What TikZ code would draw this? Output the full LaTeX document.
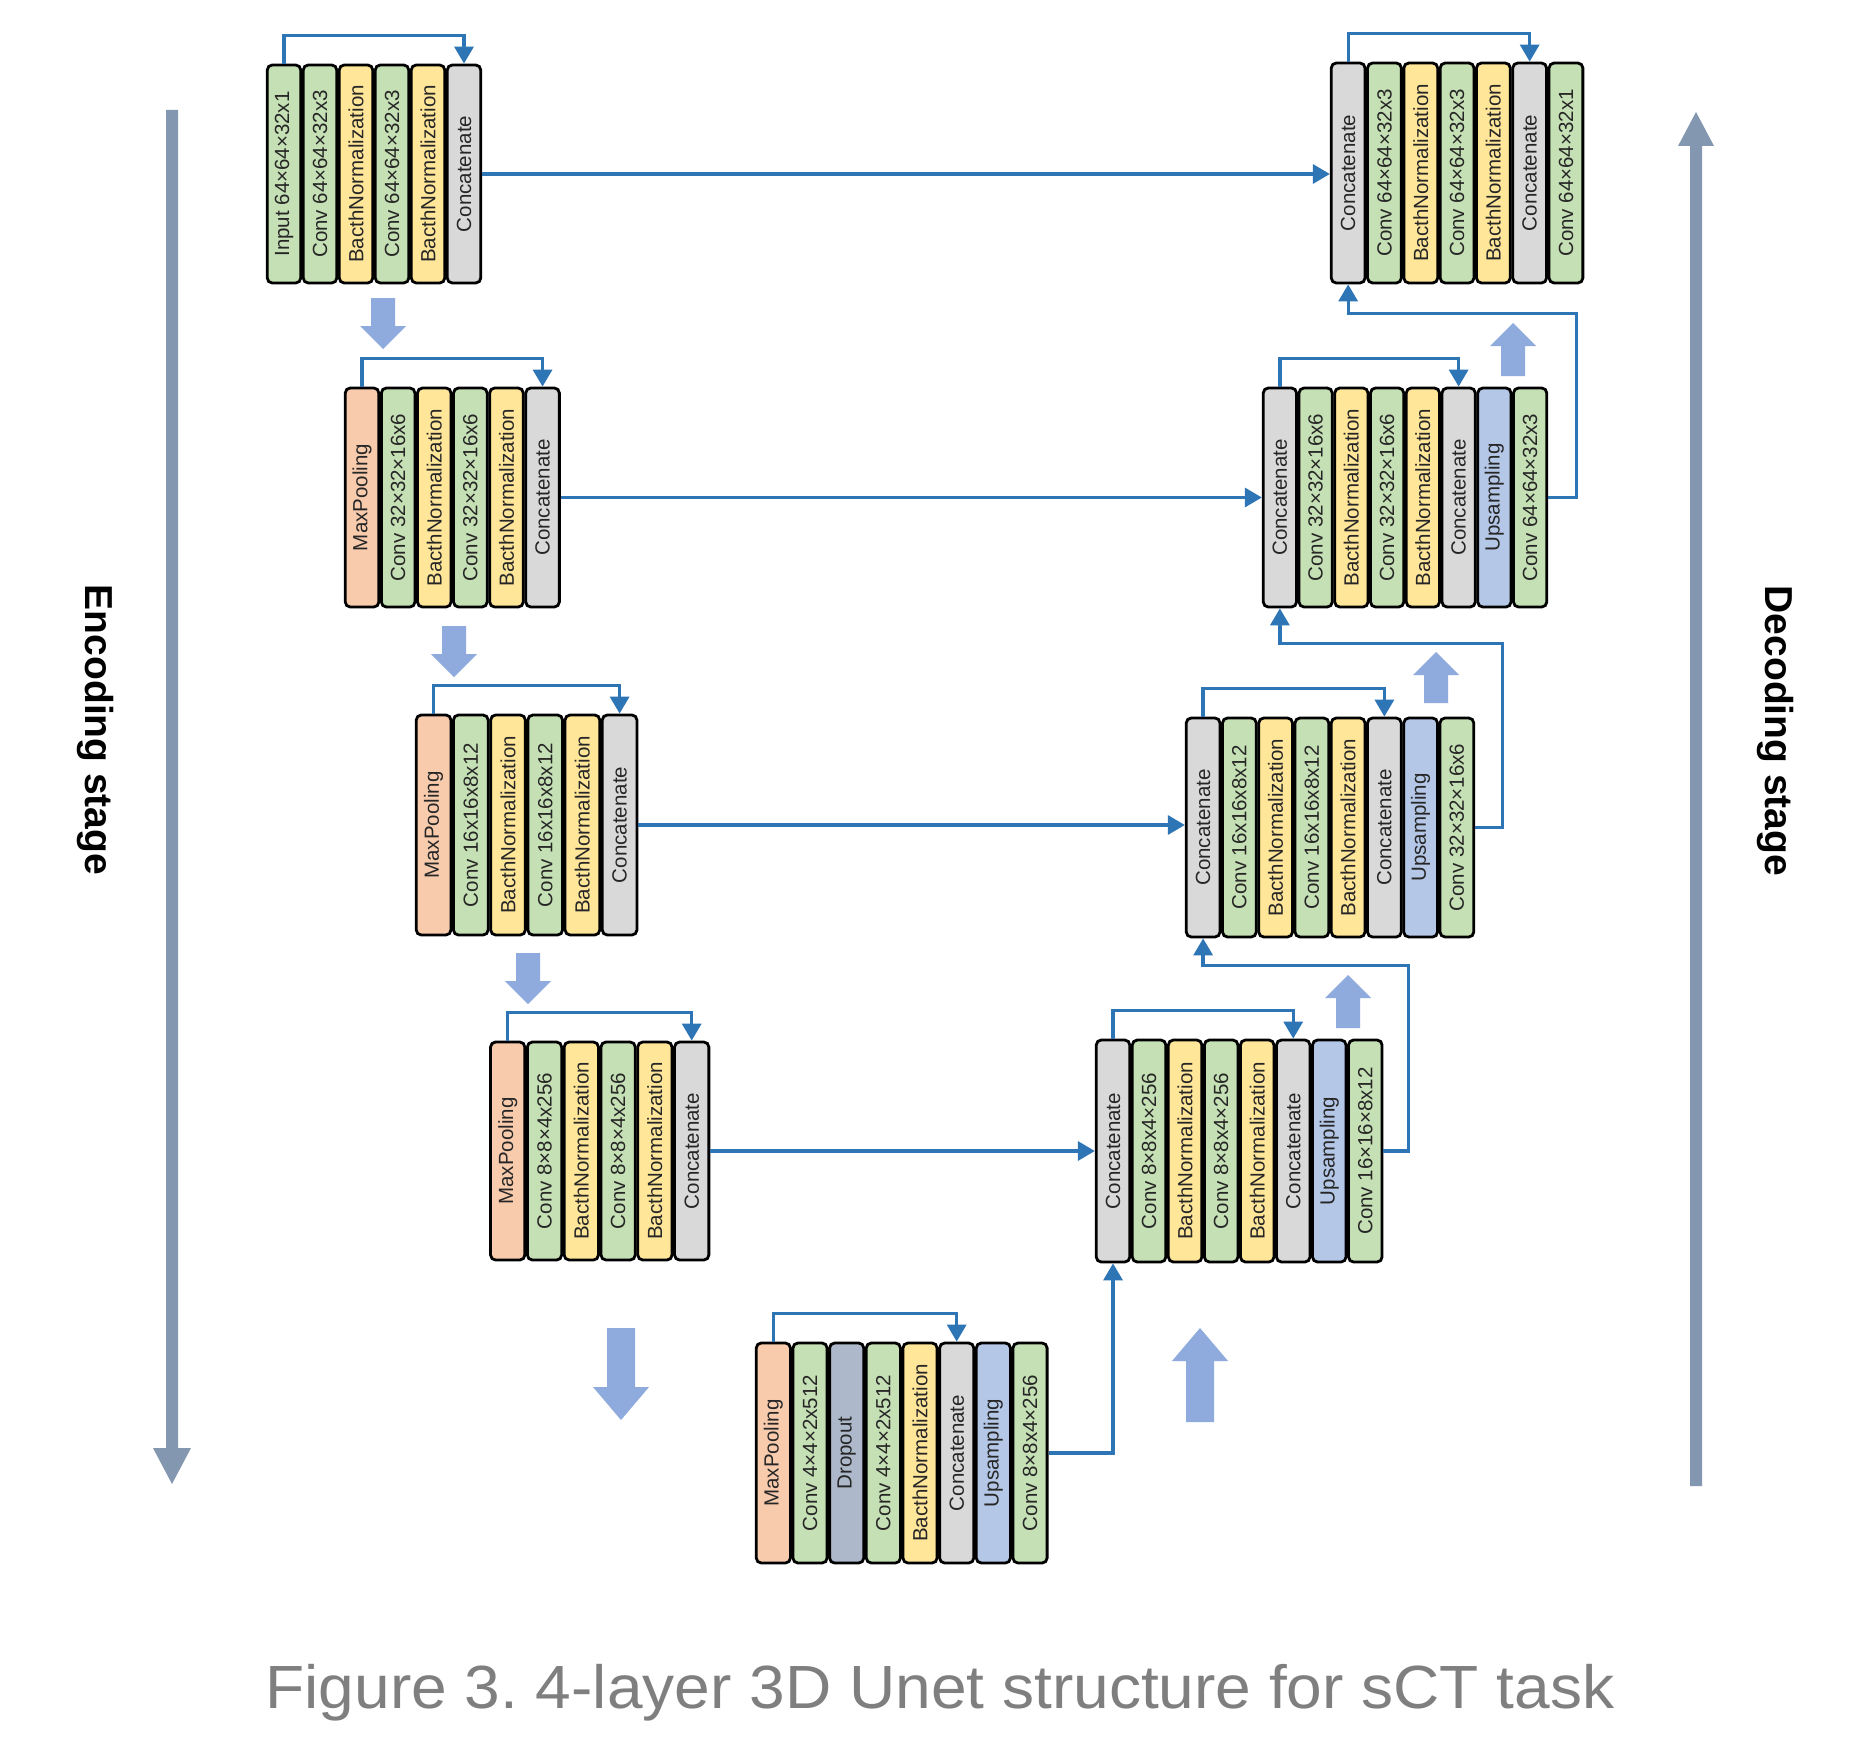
\documentclass[tikz,border=0pt]{standalone}
\usepackage{fontspec}
\setmainfont{Liberation Sans}
\usetikzlibrary{arrows.meta,calc}
\frenchspacing
\definecolor{cgreen}{HTML}{C5E0B4}
\definecolor{cyellow}{HTML}{FFE699}
\definecolor{cgray}{HTML}{D9D9D9}
\definecolor{corange}{HTML}{F8CBAD}
\definecolor{cblue}{HTML}{B4C7E7}
\definecolor{cdrop}{HTML}{ADB9CA}
\definecolor{connblue}{HTML}{2E75B6}
\definecolor{fatblue}{HTML}{8FAADC}
\definecolor{sidearrow}{HTML}{8497B0}
\definecolor{captiongray}{HTML}{7F7F7F}
\definecolor{celltext}{HTML}{262626}
% name, x0, pitch, top, bottom, list
\newcommand\ublock[6]{%
  \foreach \c/\t [count=\i] in {#6} {
    \node[cell, fill=\c, minimum width={#5-#4}, minimum height={#3-2.5}]
      (#1-\i) at ({#2+(\i-0.5)*#3}, {(#4+#5)/2}) {\t};
  }}
% cx, top, tip, headlen, headw, shaftw
\newcommand\fatdown[7]{%
  \fill[#7] ({#1-#6/2},#2) -- ({#1+#6/2},#2) -- ({#1+#6/2},{#3-#4}) -- ({#1+#5/2},{#3-#4})
    -- (#1,#3) -- ({#1-#5/2},{#3-#4}) -- ({#1-#6/2},{#3-#4}) -- cycle;}
% cx, bottom, tip, headlen, headw, shaftw
\newcommand\fatup[7]{%
  \fill[#7] ({#1-#6/2},#2) -- ({#1+#6/2},#2) -- ({#1+#6/2},{#3+#4}) -- ({#1+#5/2},{#3+#4})
    -- (#1,#3) -- ({#1-#5/2},{#3+#4}) -- ({#1-#6/2},{#3+#4}) -- cycle;}
\begin{document}
\begin{tikzpicture}[x=1pt,y=-1pt,
  cell/.style={draw=black, line width=2.8pt, rounded corners=5pt, rotate=90, inner sep=0pt,
    text=celltext, font=\fontsize{20.5}{24}\selectfont},
  conn/.style={draw=connblue, line width=3.3pt, -{Triangle[width=19pt,length=17pt]}},
  sidetext/.style={rotate=-90, font=\bfseries\fontsize{39}{46}\selectfont, text=black}]
\fill[white] (0,0) rectangle (1870,1755);
\useasboundingbox (0,0) rectangle (1870,1755);

% side arrows
\fatdown{172}{110}{1484}{36}{38}{12}{sidearrow}
\fatup{1696}{1486}{112}{34}{36}{12}{sidearrow}
\node[sidetext] (enclabel) at (95,730) {Encoding stage};
\node[sidetext] (declabel) at (1775,731) {Decoding stage};

% fat arrows
\fatdown{383}{298}{349}{23}{46}{24}{fatblue}
\fatdown{454}{626}{677}{23}{46}{24}{fatblue}
\fatdown{528}{953}{1004}{23}{46}{24}{fatblue}
\fatdown{621}{1328}{1420}{33}{56}{28}{fatblue}
\fatup{1513}{376}{323}{23}{46}{24}{fatblue}
\fatup{1436}{703}{652}{23}{46}{24}{fatblue}
\fatup{1348}{1028}{975}{23}{46}{24}{fatblue}
\fatup{1200}{1422}{1328}{33}{56}{28}{fatblue}

% encoder blocks
\ublock{e1}{266}{36}{65}{283}{cgreen/Input 64×64×32x1, cgreen/Conv 64×64×32x3, cyellow/BacthNormalization, cgreen/Conv 64×64×32x3, cyellow/BacthNormalization, cgray/Concatenate}
\ublock{e2}{344}{36.1}{388}{607}{corange/MaxPooling, cgreen/Conv 32×32×16x6, cyellow/BacthNormalization, cgreen/Conv 32×32×16x6, cyellow/BacthNormalization, cgray/Concatenate}
\ublock{e3}{415}{37.2}{715}{935}{corange/MaxPooling, cgreen/Conv 16x16x8x12, cyellow/BacthNormalization, cgreen/Conv 16x16x8x12, cyellow/BacthNormalization, cgray/Concatenate}
\ublock{e4}{489.3}{36.8}{1042}{1260}{corange/MaxPooling, cgreen/Conv 8×8×4x256, cyellow/BacthNormalization, cgreen/Conv 8×8×4x256, cyellow/BacthNormalization, cgray/Concatenate}
% bottleneck
\ublock{b}{755}{36.67}{1343}{1563}{corange/MaxPooling, cgreen/Conv 4×4×2x512, cdrop/Dropout, cgreen/Conv 4×4×2x512, cyellow/BacthNormalization, cgray/Concatenate, cblue/Upsampling, cgreen/Conv 8×8x4×256}
% decoder blocks
\ublock{d4}{1095}{36.04}{1040}{1262}{cgray/Concatenate, cgreen/Conv 8×8x4×256, cyellow/BacthNormalization, cgreen/Conv 8×8x4×256, cyellow/BacthNormalization, cgray/Concatenate, cblue/Upsampling, cgreen/Conv 16×16×8x12}
\ublock{d3}{1185}{36.25}{718}{937}{cgray/Concatenate, cgreen/Conv 16x16x8x12, cyellow/BacthNormalization, cgreen/Conv 16x16x8x12, cyellow/BacthNormalization, cgray/Concatenate, cblue/Upsampling, cgreen/Conv 32×32×16x6}
\ublock{d2}{1262}{35.75}{388}{607}{cgray/Concatenate, cgreen/Conv 32×32×16x6, cyellow/BacthNormalization, cgreen/Conv 32×32×16x6, cyellow/BacthNormalization, cgray/Concatenate, cblue/Upsampling, cgreen/Conv 64×64×32x3}
\ublock{d1}{1330}{36.3}{63}{283}{cgray/Concatenate, cgreen/Conv 64×64×32x3, cyellow/BacthNormalization, cgreen/Conv 64×64×32x3, cyellow/BacthNormalization, cgray/Concatenate, cgreen/Conv 64×64×32x1}

% skip connectors inside blocks
\foreach \blk in {e1,e2,e3,e4,b,d4,d3,d2,d1} {
  \draw[conn] (\blk-1.east) -- ++(0,-28) -| (\blk-6.east);
}

% horizontal connectors
\draw[conn] (e1-6.south) -- (e1-6.south -| d1-1.north);
\draw[conn] (e2-6.south) -- (e2-6.south -| d2-1.north);
\draw[conn] (e3-6.south) -- (e3-6.south -| d3-1.north);
\draw[conn] (e4-6.south) -- (e4-6.south -| d4-1.north);

% upward connectors
\draw[conn] (b-8.south) -| (d4-1.west);
\draw[conn] (d4-8.south) -- ++(25,0) |- ($(d3-1.west)+(0,27)$) -- (d3-1.west);
\draw[conn] (d3-8.south) -- ++(27,0) |- ($(d2-1.west)+(0,35)$) -- (d2-1.west);
\draw[conn] (d2-8.south) -- ++(28,0) |- ($(d1-1.west)+(0,29)$) -- (d1-1.west);

% caption
\node[anchor=base, text=captiongray, font=\fontsize{61}{72}\selectfont, xscale=1.05] (caption) at (940,1708)
  {Figure 3. 4-layer 3D Unet structure for sCT task};
\end{tikzpicture}
\end{document}
